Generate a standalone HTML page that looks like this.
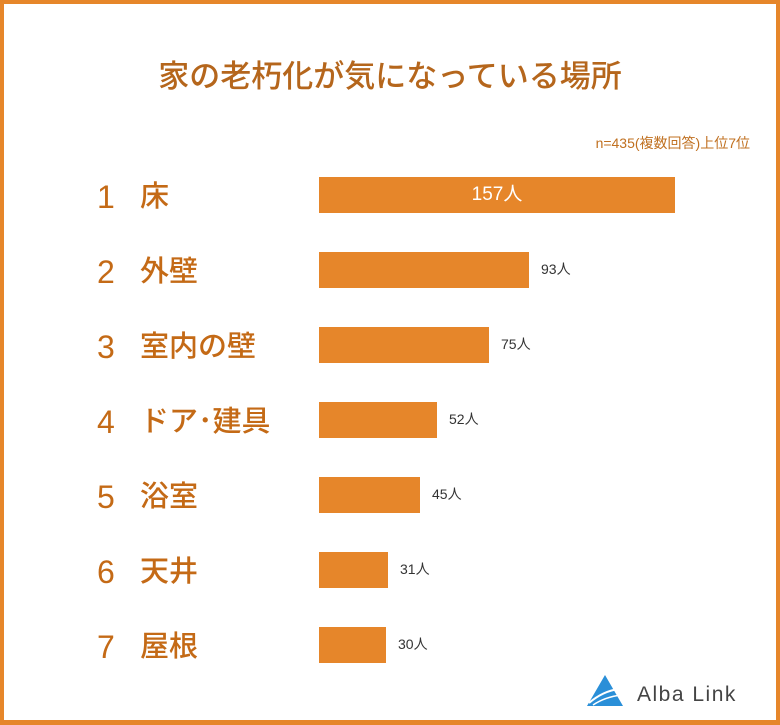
<!DOCTYPE html>
<html><head><meta charset="utf-8"><style>
body{margin:0;width:780px;height:725px;overflow:hidden;background:#fff;font-family:"Liberation Sans","Noto Sans CJK JP",sans-serif}
.frame{position:absolute;left:0;top:0;width:772px;height:716px;border:4px solid #e6862a;border-bottom-width:5px}
.t{position:absolute;white-space:nowrap}
.title{left:0;width:780px;text-align:center;top:55px;font-size:31px;line-height:44px;color:#b5661c;font-weight:500}
.note{right:30px;top:133px;font-size:14px;color:#c07020}
.num{left:97px;font-size:32px;line-height:36px;color:#c46a16;font-weight:500}
.lab{left:140px;font-size:29px;line-height:36px;color:#c46a16;font-weight:500}
.bar{position:absolute;left:319px;height:36px;background:#e6862a}
.val{font-size:14px;line-height:20px;color:#333}
</style></head><body>
<div class="frame"></div>
<div class="t title">家の老朽化が気になっている場所</div>
<div class="t note">n=435(複数回答)上位7位</div>

<div class="bar" style="top:177px;width:356px"></div>
<div class="t" style="left:319px;width:356px;text-align:center;top:177px;line-height:36px;font-size:19px;color:#fff">157人</div>
<div class="bar" style="top:252px;width:210px"></div>
<div class="bar" style="top:327px;width:170px"></div>
<div class="bar" style="top:402px;width:118px"></div>
<div class="bar" style="top:477px;width:101px"></div>
<div class="bar" style="top:552px;width:69px"></div>
<div class="bar" style="top:627px;width:67px"></div>

<div class="t val" style="left:541px;top:259px">93人</div>
<div class="t val" style="left:501px;top:334px">75人</div>
<div class="t val" style="left:449px;top:409px">52人</div>
<div class="t val" style="left:432px;top:484px">45人</div>
<div class="t val" style="left:400px;top:559px">31人</div>
<div class="t val" style="left:398px;top:634px">30人</div>

<div class="t num" style="top:179px">1</div><div class="t lab" style="top:179px">床</div>
<div class="t num" style="top:254px">2</div><div class="t lab" style="top:254px">外壁</div>
<div class="t num" style="top:329px">3</div><div class="t lab" style="top:329px">室内の壁</div>
<div class="t num" style="top:404px">4</div><div class="t lab" style="top:404px">ドア･建具</div>
<div class="t num" style="top:479px">5</div><div class="t lab" style="top:479px">浴室</div>
<div class="t num" style="top:554px">6</div><div class="t lab" style="top:554px">天井</div>
<div class="t num" style="top:629px">7</div><div class="t lab" style="top:629px">屋根</div>

<svg style="position:absolute;left:585px;top:673px" width="40" height="36">
<polygon points="20,2 38,33 2,33" fill="#2a8fd8"/>
<path d="M4,30 Q18,18 34,16" stroke="#fff" stroke-width="2" fill="none"/>
<path d="M8,32 Q20,24 36,22" stroke="#fff" stroke-width="1.5" fill="none"/>
</svg>
<div class="t" style="left:637px;top:683px;font-size:21px;color:#444;letter-spacing:1.5px">Alba Link</div>
</body></html>
